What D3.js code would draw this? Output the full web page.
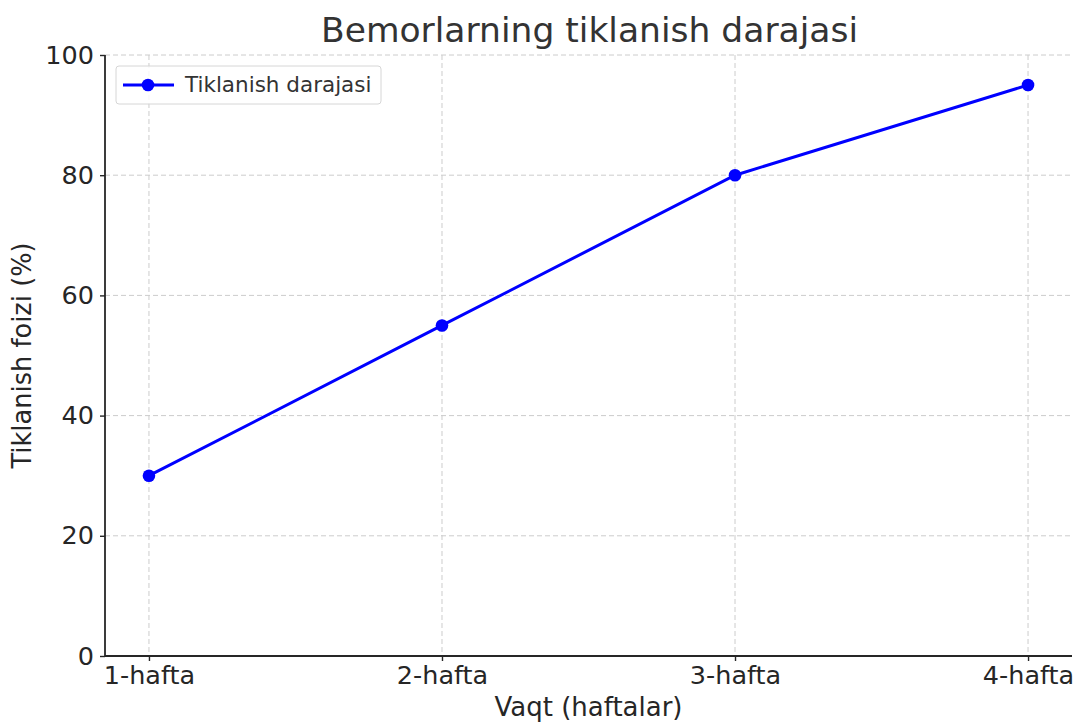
<!DOCTYPE html>
<html>
<head>
<meta charset="utf-8">
<script src="https://cdn.jsdelivr.net/npm/d3@7"></script>
<style>
  body { margin: 0; background: #fff; }
  svg { display: block; font-family: 'DejaVu Sans', sans-serif; }
</style>
</head>
<body>
<div id="chart"></div>
<script>
(function () {
  'use strict';

  var WEEKS = ['1-hafta', '2-hafta', '3-hafta', '4-hafta'];
  var RECOVERY = [30, 55, 80, 95];
  var Y_TICKS = [0, 20, 40, 60, 80, 100];

  var WIDTH = 1074, HEIGHT = 722;
  var M = { left: 105, right: 2, top: 55, bottom: 66 };

  var COLOR_LINE = '#0000ff';
  var COLOR_TEXT = '#262626';
  var COLOR_GRID = '#cccccc';

  var svg = d3.select('#chart').append('svg')
    .attr('width', WIDTH)
    .attr('height', HEIGHT);

  var innerW = WIDTH - M.left - M.right;
  var innerH = HEIGHT - M.top - M.bottom;

  // matplotlib-like 5% margin on x
  var pad = (WEEKS.length - 1) * 0.05;
  var x = d3.scaleLinear().domain([-pad, WEEKS.length - 1 + pad]).range([0, innerW]);
  var y = d3.scaleLinear().domain([0, 100]).range([innerH, 0]);

  var g = svg.append('g').attr('transform', 'translate(' + M.left + ',' + M.top + ')');

  // grid
  var grid = g.append('g').attr('class', 'grid');
  WEEKS.forEach(function (_, i) {
    grid.append('line')
      .attr('x1', x(i)).attr('x2', x(i))
      .attr('y1', 0).attr('y2', innerH)
      .attr('stroke', COLOR_GRID).attr('stroke-width', 1)
      .attr('stroke-dasharray', '5,3');
  });
  Y_TICKS.forEach(function (t) {
    grid.append('line')
      .attr('x1', 0).attr('x2', innerW)
      .attr('y1', y(t)).attr('y2', y(t))
      .attr('stroke', COLOR_GRID).attr('stroke-width', 1)
      .attr('stroke-dasharray', '5,3');
  });

  // axes
  var xAxis = g.append('g')
    .attr('transform', 'translate(0,' + innerH + ')')
    .call(d3.axisBottom(x).tickValues(d3.range(WEEKS.length))
      .tickFormat(function (i) { return WEEKS[i]; })
      .tickSize(5).tickPadding(5).tickSizeOuter(0));
  var yAxis = g.append('g')
    .call(d3.axisLeft(y).tickValues(Y_TICKS)
      .tickSize(5).tickPadding(6).tickSizeOuter(0));

  [xAxis, yAxis].forEach(function (ax) {
    ax.select('.domain').attr('stroke', COLOR_TEXT).attr('stroke-width', 1.8);
    ax.selectAll('.tick line').attr('stroke', COLOR_TEXT).attr('stroke-width', 1.4);
    ax.selectAll('.tick text')
      .attr('fill', COLOR_TEXT)
      .style('font-family', 'DejaVu Sans, sans-serif')
      .style('font-size', '25.5px');
  });
  xAxis.select('.domain').attr('d', 'M0,0H' + innerW);
  yAxis.select('.domain').attr('d', 'M0,' + innerH + 'V0');

  // line
  var line = d3.line()
    .x(function (d, i) { return x(i); })
    .y(function (d) { return y(d); });

  g.append('path')
    .datum(RECOVERY)
    .attr('d', line)
    .attr('fill', 'none')
    .attr('stroke', COLOR_LINE)
    .attr('stroke-width', 3);

  g.selectAll('.dot')
    .data(RECOVERY)
    .enter().append('circle')
    .attr('class', 'dot')
    .attr('cx', function (d, i) { return x(i); })
    .attr('cy', function (d) { return y(d); })
    .attr('r', 6.3)
    .attr('fill', COLOR_LINE);

  // title + axis labels
  svg.append('text')
    .attr('x', M.left + innerW / 2 + 1).attr('y', 42)
    .attr('text-anchor', 'middle')
    .attr('fill', '#333333')
    .style('font-size', '34.5px')
    .text('Bemorlarning tiklanish darajasi');

  svg.append('text')
    .attr('x', M.left + innerW / 2).attr('y', 716)
    .attr('text-anchor', 'middle')
    .attr('fill', COLOR_TEXT)
    .style('font-size', '26px')
    .text('Vaqt (haftalar)');

  svg.append('text')
    .attr('transform', 'translate(31,' + (M.top + innerH / 2) + ') rotate(-90)')
    .attr('text-anchor', 'middle')
    .attr('fill', COLOR_TEXT)
    .style('font-size', '25.7px')
    .text('Tiklanish foizi (%)');

  // legend
  var lg = g.append('g').attr('transform', 'translate(11,11)');
  lg.append('rect')
    .attr('width', 265).attr('height', 38)
    .attr('rx', 3)
    .attr('fill', '#ffffff').attr('fill-opacity', 0.8)
    .attr('stroke', '#d6d6d6').attr('stroke-width', 1);
  lg.append('line')
    .attr('x1', 7).attr('x2', 58).attr('y1', 19).attr('y2', 19)
    .attr('stroke', COLOR_LINE).attr('stroke-width', 3);
  lg.append('circle')
    .attr('cx', 32).attr('cy', 19).attr('r', 6.3)
    .attr('fill', COLOR_LINE);
  lg.append('text')
    .attr('x', 69).attr('y', 26)
    .attr('fill', '#333333')
    .style('font-size', '21.5px')
    .text('Tiklanish darajasi');
})();
</script>
</body>
</html>
